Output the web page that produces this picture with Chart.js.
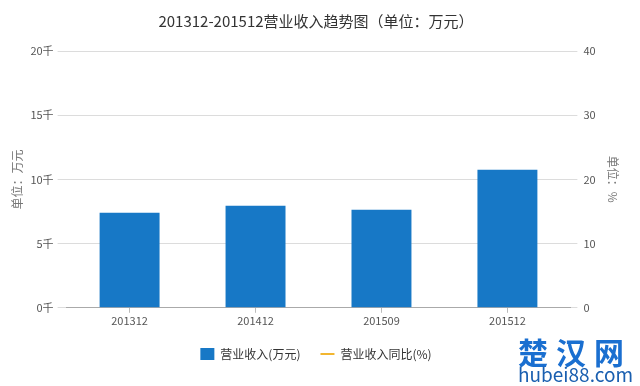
<!DOCTYPE html>
<html>
<head>
<meta charset="utf-8">
<script src="https://cdn.jsdelivr.net/npm/chart.js@4"></script>
<style>
    html, body { margin: 0; padding: 0; background: #fff; }
    #wrap { position: relative; width: 640px; height: 386px; }
    #mark { position: absolute; left: 518px; top: 336px; font-family: "Noto Sans CJK SC", sans-serif; line-height: 1; }
    #mark .cn { color: #1a6fd0; font-size: 30px; font-weight: bold; letter-spacing: 8px; }
    #mark .en { color: #1a5fb0; font-size: 19px; margin-top: -2px; }
</style>
</head>
<body>
<div id="wrap">
    <canvas id="revenueChart" width="640" height="386"></canvas>
    <div id="mark"><div class="cn">楚汉网</div><div class="en">hubei88.com</div></div>
</div>
<script>
// Periods on the x axis
const periods = ['201312', '201412', '201509', '201512'];
// Revenue, 万元
const revenue = [7400, 7950, 7630, 10760];
// Year-on-year growth, % (no points drawn in the reference)
const revenueYoY = [null, null, null, null];
// Left axis ticks (thousands)
const leftTicks = [0, 5000, 10000, 15000, 20000];
// Right axis ticks (%)
const rightTicks = [0, 10, 20, 30, 40];

const fontFamily = '"Noto Sans CJK SC", "Noto Sans", sans-serif';

document.addEventListener("DOMContentLoaded", function () {
    const ctx = document.getElementById('revenueChart').getContext('2d');
    new Chart(ctx, {
        data: {
            labels: periods,
            datasets: [{
                type: 'bar',
                label: '营业收入(万元)',
                data: revenue,
                backgroundColor: '#1778c6',
                borderWidth: 0,
                barPercentage: 0.476,
                categoryPercentage: 1,
                yAxisID: 'y',
                pointStyle: 'rect'
            }, {
                type: 'line',
                label: '营业收入同比(%)',
                data: revenueYoY,
                borderColor: '#f2b630',
                backgroundColor: '#f2b630',
                borderWidth: 2,
                pointStyle: 'line',
                yAxisID: 'y1'
            }]
        },
        options: {
            responsive: false,
            animation: false,
            layout: { padding: { top: 12, left: 8, right: 16, bottom: 16 } },
            plugins: {
                title: {
                    display: true,
                    text: '201312-201512营业收入趋势图（单位：万元）',
                    color: '#333',
                    font: { family: fontFamily, size: 15, weight: 'normal' },
                    padding: { top: 0, bottom: 21 }
                },
                legend: {
                    position: 'bottom',
                    labels: {
                        usePointStyle: true,
                        pointStyleWidth: 14,
                        boxHeight: 13,
                        color: '#333',
                        font: { family: fontFamily, size: 12 },
                        padding: 20
                    }
                },
                tooltip: { enabled: false }
            },
            scales: {
                x: {
                    grid: { display: true, drawOnChartArea: false, offset: false, tickLength: 5, tickColor: '#bbb' },
                    border: { color: '#aaa' },
                    ticks: { color: '#555', font: { family: fontFamily, size: 11 }, padding: 1 }
                },
                y: {
                    position: 'left',
                    min: leftTicks[0],
                    max: leftTicks[leftTicks.length - 1],
                    afterBuildTicks: axis => { axis.ticks = leftTicks.map(v => ({ value: v })); },
                    grid: { color: '#dcdcdc', tickLength: 9, tickColor: '#dcdcdc' },
                    border: { display: false },
                    ticks: {
                        color: '#555',
                        font: { family: fontFamily, size: 11 },
                        padding: 4,
                        callback: v => (v / 1000) + '千'
                    },
                    title: {
                        display: true,
                        text: '单位：万元',
                        color: '#777',
                        font: { family: fontFamily, size: 12 },
                        padding: 2
                    }
                },
                y1: {
                    position: 'right',
                    min: rightTicks[0],
                    max: rightTicks[rightTicks.length - 1],
                    afterBuildTicks: axis => { axis.ticks = rightTicks.map(v => ({ value: v })); },
                    grid: { drawOnChartArea: false, tickLength: 7, tickColor: '#dcdcdc' },
                    border: { display: false },
                    ticks: {
                        color: '#555',
                        font: { family: fontFamily, size: 11 },
                        padding: 6
                    },
                    title: {
                        display: true,
                        text: '单位：%',
                        color: '#777',
                        font: { family: fontFamily, size: 12 },
                        padding: 4
                    }
                }
            }
        }
    });
});
</script>
</body>
</html>
